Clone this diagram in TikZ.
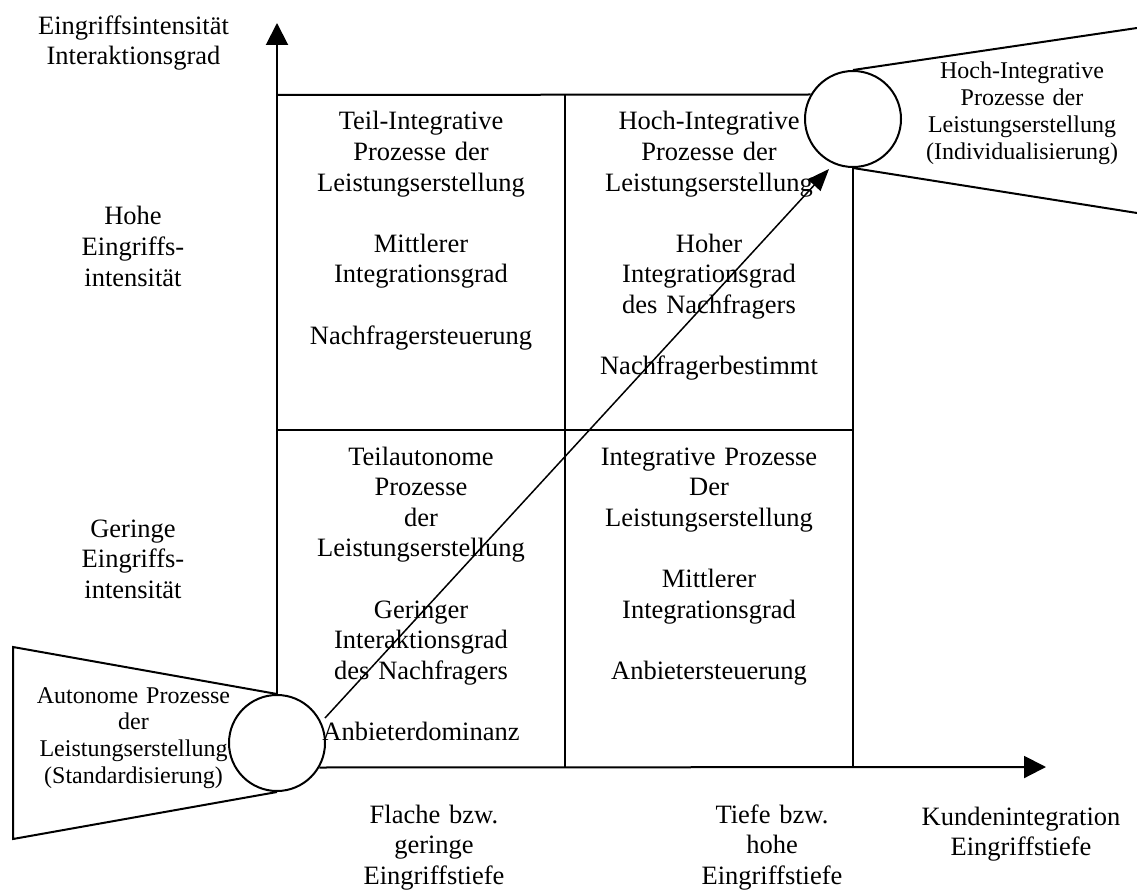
\documentclass[tikz,border=0pt]{standalone}
\usepackage{fontspec}
\setmainfont{Liberation Serif}
\usetikzlibrary{arrows.meta}
\begin{document}
\begin{tikzpicture}[x=1pt,y=-1pt,line width=2pt,
  lbl/.style={inner sep=0pt,anchor=base,align=center,text width=280pt,
              font=\fontsize{26.5}{30.6}\selectfont},
  small/.style={lbl,text width=230pt,font=\fontsize{24}{26.8}\selectfont},
  ring/.style={circle,draw,minimum size=96pt,inner sep=0pt},
  axis/.style={-{Triangle[length=22pt,width=22pt]}},
  path/.style={line width=1.5pt,-{Triangle[length=22pt,width=17pt]}}]
\useasboundingbox (0,0) rectangle (1137,890);

% grid corners
\coordinate (tl) at (277,95);
\coordinate (tm) at (565,95);
\coordinate (ml) at (277,430);
\coordinate (mr) at (853,430);
\coordinate (bm) at (565,767);
\coordinate (br) at (853,767);
\coordinate (ytip) at (277,23);
\coordinate (xtip) at (1046,767);

% the two process circles
\node[ring] (cs) at (277,743) {};
\node[ring] (cl) at (853,119) {};

% funnels
\coordinate (fl1) at (13,647);
\coordinate (fl2) at (13,839);
\coordinate (fr1) at (1137,28);
\coordinate (fr2) at (1137,213);
\draw (cs.north) -- (fl1) -- (fl2) -- (cs.south);
\draw (cl.north) -- (fr1);
\draw (cl.south) -- (fr2);

% axes
\draw[axis] (cs.north) -- (ytip);
\draw[axis] (cs.-30) -- (xtip);

% matrix lines
\draw (tl) -- (cl.150);
\draw (ml) -- (mr);
\draw (tm) -- (bm);
\draw (cl.south) -- (br);

% development path
\coordinate (d0) at (325,718);
\coordinate (d1) at (829,169);
\draw[path] (d0) -- (d1);

% axis titles
\node[lbl,font=\fontsize{26.5}{29.5}\selectfont] (ytitle) at (133.5,35)
  {Eingriffsintensität\\Interaktionsgrad};
\node[lbl] (xtitle) at (1021,825) {Kundenintegration\\Eingriffstiefe};

% row labels
\node[lbl] (hi) at (133,225) {Hohe\\Eingriffs-\\intensität};
\node[lbl] (lo) at (133,537) {Geringe\\Eingriffs-\\intensität};

% column labels
\node[lbl] (flat) at (434,823) {Flache bzw.\\geringe\\Eingriffstiefe};
\node[lbl] (deep) at (772,823) {Tiefe bzw.\\hohe\\Eingriffstiefe};

% cells
\node[lbl] (c11) at (421,130) {Teil-Integrative\\Prozesse der\\Leistungserstellung\\[30.6pt]Mittlerer\\Integrationsgrad\\[30.6pt]Nachfragersteuerung};
\node[lbl] (c12) at (709,130) {Hoch-Integrative\\Prozesse der\\Leistungserstellung\\[30.6pt]Hoher\\Integrationsgrad\\des Nachfragers\\[30.6pt]Nachfragerbestimmt};
\node[lbl] (c21) at (421,465) {Teilautonome\\Prozesse\\der\\Leistungserstellung\\[30.6pt]Geringer\\Interaktionsgrad\\des Nachfragers\\[30.6pt]Anbieterdominanz};
\node[lbl] (c22) at (709,465) {Integrative Prozesse\\Der\\Leistungserstellung\\[30.6pt]Mittlerer\\Integrationsgrad\\[30.6pt]Anbietersteuerung};

% funnel texts
\node[small] (auto) at (133.5,703) {Autonome Prozesse\\der\\Leistungserstellung\\(Standardisierung)};
\node[small] (indiv) at (1022,79) {Hoch-Integrative\\Prozesse der\\Leistungserstellung\\(Individualisierung)};
\end{tikzpicture}
\end{document}
